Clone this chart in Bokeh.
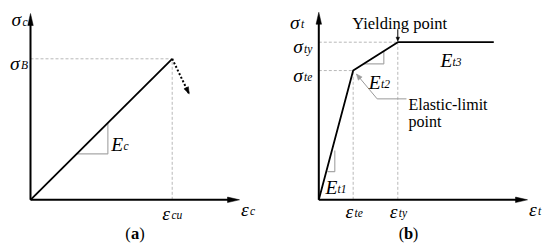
import numpy as np
from bokeh.plotting import figure
from bokeh.layouts import row
from bokeh.models import Range1d
from bokeh.core.properties import value
from bokeh.embed import file_html
from bokeh.resources import INLINE

FONT = "Liberation Serif"

# ---------------- (a) concrete: normalised strain / stress ----------------
conc_strain = [0.0, 1.0]            # 0 -> eps_cu
conc_stress = [0.0, 1.0]            # 0 -> sigma_B
conc_soft_strain = [1.0, 1.12]      # post-peak softening (dotted arrow)
conc_soft_stress = [1.0, 0.75]
conc_slope_x = [0.326, 0.546, 0.546]
conc_slope_y = [0.326, 0.326, 0.546]
conc_axis_end = [1.475, 1.321]      # x-axis tip, y-axis tip

# ---------------- (b) tensile material: trilinear ----------------
tens_strain = [0.0, 0.435, 1.0, 2.215]   # 0, eps_te, eps_ty, end
tens_stress = [0.0, 0.82, 1.0, 1.0]      # 0, sigma_te, sigma_ty, plateau
tens_slope1_x = [0.11, 0.2025, 0.2025]
tens_slope1_y = [0.179, 0.179, 0.313]
tens_slope2_x = [0.57, 0.823, 0.823]
tens_slope2_y = [0.863, 0.863, 0.9436]
tens_axis_end = [2.642, 1.19]

GUIDE = "#b8b8b8"
TRI = "#a8a8a8"
MS, SS = 19.5, 11.5   # symbol / subscript font sizes


def make_fig(w, h, ox, oy, sx, sy):
    x0 = -ox / sx
    y1 = oy / sy
    p = figure(width=w, height=h, output_backend="svg", toolbar_location=None,
               x_axis_type=None, y_axis_type=None,
               x_range=Range1d(x0, x0 + w / sx), y_range=Range1d(y1 - h / sy, y1),
               min_border=0, min_border_left=0, min_border_right=0,
               min_border_top=0, min_border_bottom=0)
    p.grid.visible = False
    p.outline_line_color = None
    p.background_fill_color = "white"
    p.border_fill_color = "white"
    return p


def head(p, S, tx, ty, ux, uy, L, W, color="black"):
    sx, sy = S
    n = np.hypot(ux, uy)
    ux, uy = ux / n, uy / n
    bx, by = -L * ux, -L * uy
    px, py = -uy, ux
    xs = [tx, tx + (bx + px * W / 2) / sx, tx + (bx - px * W / 2) / sx]
    ys = [ty, ty + (by + py * W / 2) / sy, ty + (by - py * W / 2) / sy]
    p.patch(xs, ys, fill_color=color, line_color=color, line_width=0.5)


def axes(p, S, xend, yend):
    sx, sy = S
    p.line([0, xend - 8 / sx], [0, 0], line_color="black", line_width=2)
    p.line([0, 0], [0, yend - 8 / sy], line_color="black", line_width=2)
    head(p, S, xend, 0, 1, 0, 12, 5.5)
    head(p, S, 0, yend, 0, 1, 12, 5.5)


def lab(p, S, x, y, s, size, dx=0, dy=0, style="italic", align="left", color="black"):
    sx, sy = S
    p.text(x=[x + dx / sx], y=[y - dy / sy], text=[s],
           text_font=value(FONT), text_font_size=value(f"{size}px"),
           text_font_style=value(style), text_align=value(align),
           text_baseline=value("alphabetic"), text_color=value(color))


def mlab(p, S, x, y, main, sub, dx, dy, sdx, sdy, align="left"):
    lab(p, S, x, y, main, MS, dx, dy, align=align)
    lab(p, S, x, y, sub, SS, sdx, sdy)


def caption(p, S, x, y, letter, dx, dy):
    lab(p, S, x, y, "(", 16.5, dx - 4.3, dy, style="normal", align="right")
    lab(p, S, x, y, letter, 16.5, dx, dy, style="bold", align="center")
    lab(p, S, x, y, ")", 16.5, dx + 4.3, dy, style="normal", align="left")


# ======================= panel (a) =======================
SA = (141.7, 141.0)
pa = make_fig(275, 247, 30, 199.3, *SA)
pa.line([0, conc_strain[1]], [conc_stress[1], conc_stress[1]], line_color=GUIDE, line_width=1, line_dash="3 2")
pa.line([conc_strain[1], conc_strain[1]], [0, conc_stress[1]], line_color=GUIDE, line_width=1, line_dash="3 2")
pa.line(conc_slope_x, conc_slope_y, line_color=TRI, line_width=1.2)
axes(pa, SA, conc_axis_end[0], conc_axis_end[1])
pa.line(conc_strain, conc_stress, line_color="black", line_width=1.8)
pa.line(conc_soft_strain, conc_soft_stress, line_color="black", line_width=2, line_dash="2 2")
ux = (conc_soft_strain[1] - conc_soft_strain[0]) * SA[0]
uy = (conc_soft_stress[1] - conc_soft_stress[0]) * SA[1]
head(pa, SA, conc_soft_strain[1], conc_soft_stress[1], ux, uy, 7, 5)

mlab(pa, SA, 0, conc_axis_end[1], "σ", "c", -9.3, 6, -8, 8.5, align="right")
mlab(pa, SA, 0, conc_stress[1], "σ", "B", -11, 4.7, -9.5, 6.5, align="right")
mlab(pa, SA, conc_axis_end[0], 0, "ε", "c", 1.5, 10, 10.5, 11.5)
mlab(pa, SA, conc_strain[1], 0, "ε", "cu", -10, 14, -0.8, 15.5)
mlab(pa, SA, conc_slope_x[1], conc_slope_y[1], "E", "c", 3.4, -9, 15.6, -7.5)
caption(pa, SA, conc_axis_end[0] / 2, 0, "a", 0, 33.7)

# ======================= panel (b) =======================
SB = (79.0, 157.6)
pb = make_fig(275, 247, 43.3, 199.3, *SB)
ete, ste = tens_strain[1], tens_stress[1]
ety, sty = tens_strain[2], tens_stress[2]
for xs, ys in [([0, ety], [sty, sty]), ([0, ete], [ste, ste]),
               ([ete, ete], [0, ste]), ([ety, ety], [0, sty])]:
    pb.line(xs, ys, line_color=GUIDE, line_width=1, line_dash="3 2")
pb.line(tens_slope1_x, tens_slope1_y, line_color=TRI, line_width=1.2)
pb.line(tens_slope2_x, tens_slope2_y, line_color=TRI, line_width=1.2)
axes(pb, SB, tens_axis_end[0], tens_axis_end[1])
pb.line(tens_strain, tens_stress, line_color="black", line_width=1.8)

# yielding point marker arrow
pb.line([ety, ety], [sty + 13 / SB[1], sty + 4 / SB[1]], line_color="black", line_width=1)
head(pb, SB, ety, sty + 1 / SB[1], 0, -1, 4, 3.5)
lab(pb, SB, ety, sty, "Yielding point", 16.5, -45.6, -19, style="normal")

# elastic-limit leader
lx = [ete + 53.3 / SB[0], ete + 24 / SB[0], ete + 3.2 / SB[0]]
ly = [ste - 28.3 / SB[1], ste - 28.3 / SB[1], ste - 3.4 / SB[1]]
pb.line(lx, ly, line_color="#9a9a9a", line_width=1)
head(pb, SB, lx[2], ly[2], (lx[2] - lx[1]) * SB[0], (ly[2] - ly[1]) * SB[1], 6, 5, color="#9a9a9a")
lab(pb, SB, ete, ste, "Elastic-limit", 16, 55.3, 34, style="normal")
lab(pb, SB, ete, ste, "point", 16, 55.3, 51, style="normal")

mlab(pb, SB, 0, tens_axis_end[1], "σ", "t", -19.3, 10, -17.8, 12, align="right")
mlab(pb, SB, 0, sty, "σ", "ty", -16, 4.3, -14.8, 6.3, align="right")
mlab(pb, SB, 0, ste, "σ", "te", -16, 4.5, -14.8, 6.5, align="right")
mlab(pb, SB, ete, 0, "ε", "te", -7.7, 11.4, 1.3, 13)
mlab(pb, SB, ety, 0, "ε", "ty", -8, 11.4, 1, 13)
mlab(pb, SB, tens_axis_end[0], 0, "ε", "t", 1.5, 10, 10.5, 11.5)
mid = (tens_strain[2] + tens_strain[3]) / 2
mlab(pb, SB, mid, tens_stress[3], "E", "t3", -5.3, 18.3, 6.7, 19.8)
mlab(pb, SB, ete, ste, "E", "t2", 15.6, 11.7, 27.8, 13.2)
mlab(pb, SB, 0, 0, "E", "t1", 6.7, -12, 18.7, -10.5)
caption(pb, SB, ety, 0, "b", 10.7, 33.7)

layout = row(pa, pb, spacing=0)
open("out.html", "w").write(file_html(layout, INLINE))
